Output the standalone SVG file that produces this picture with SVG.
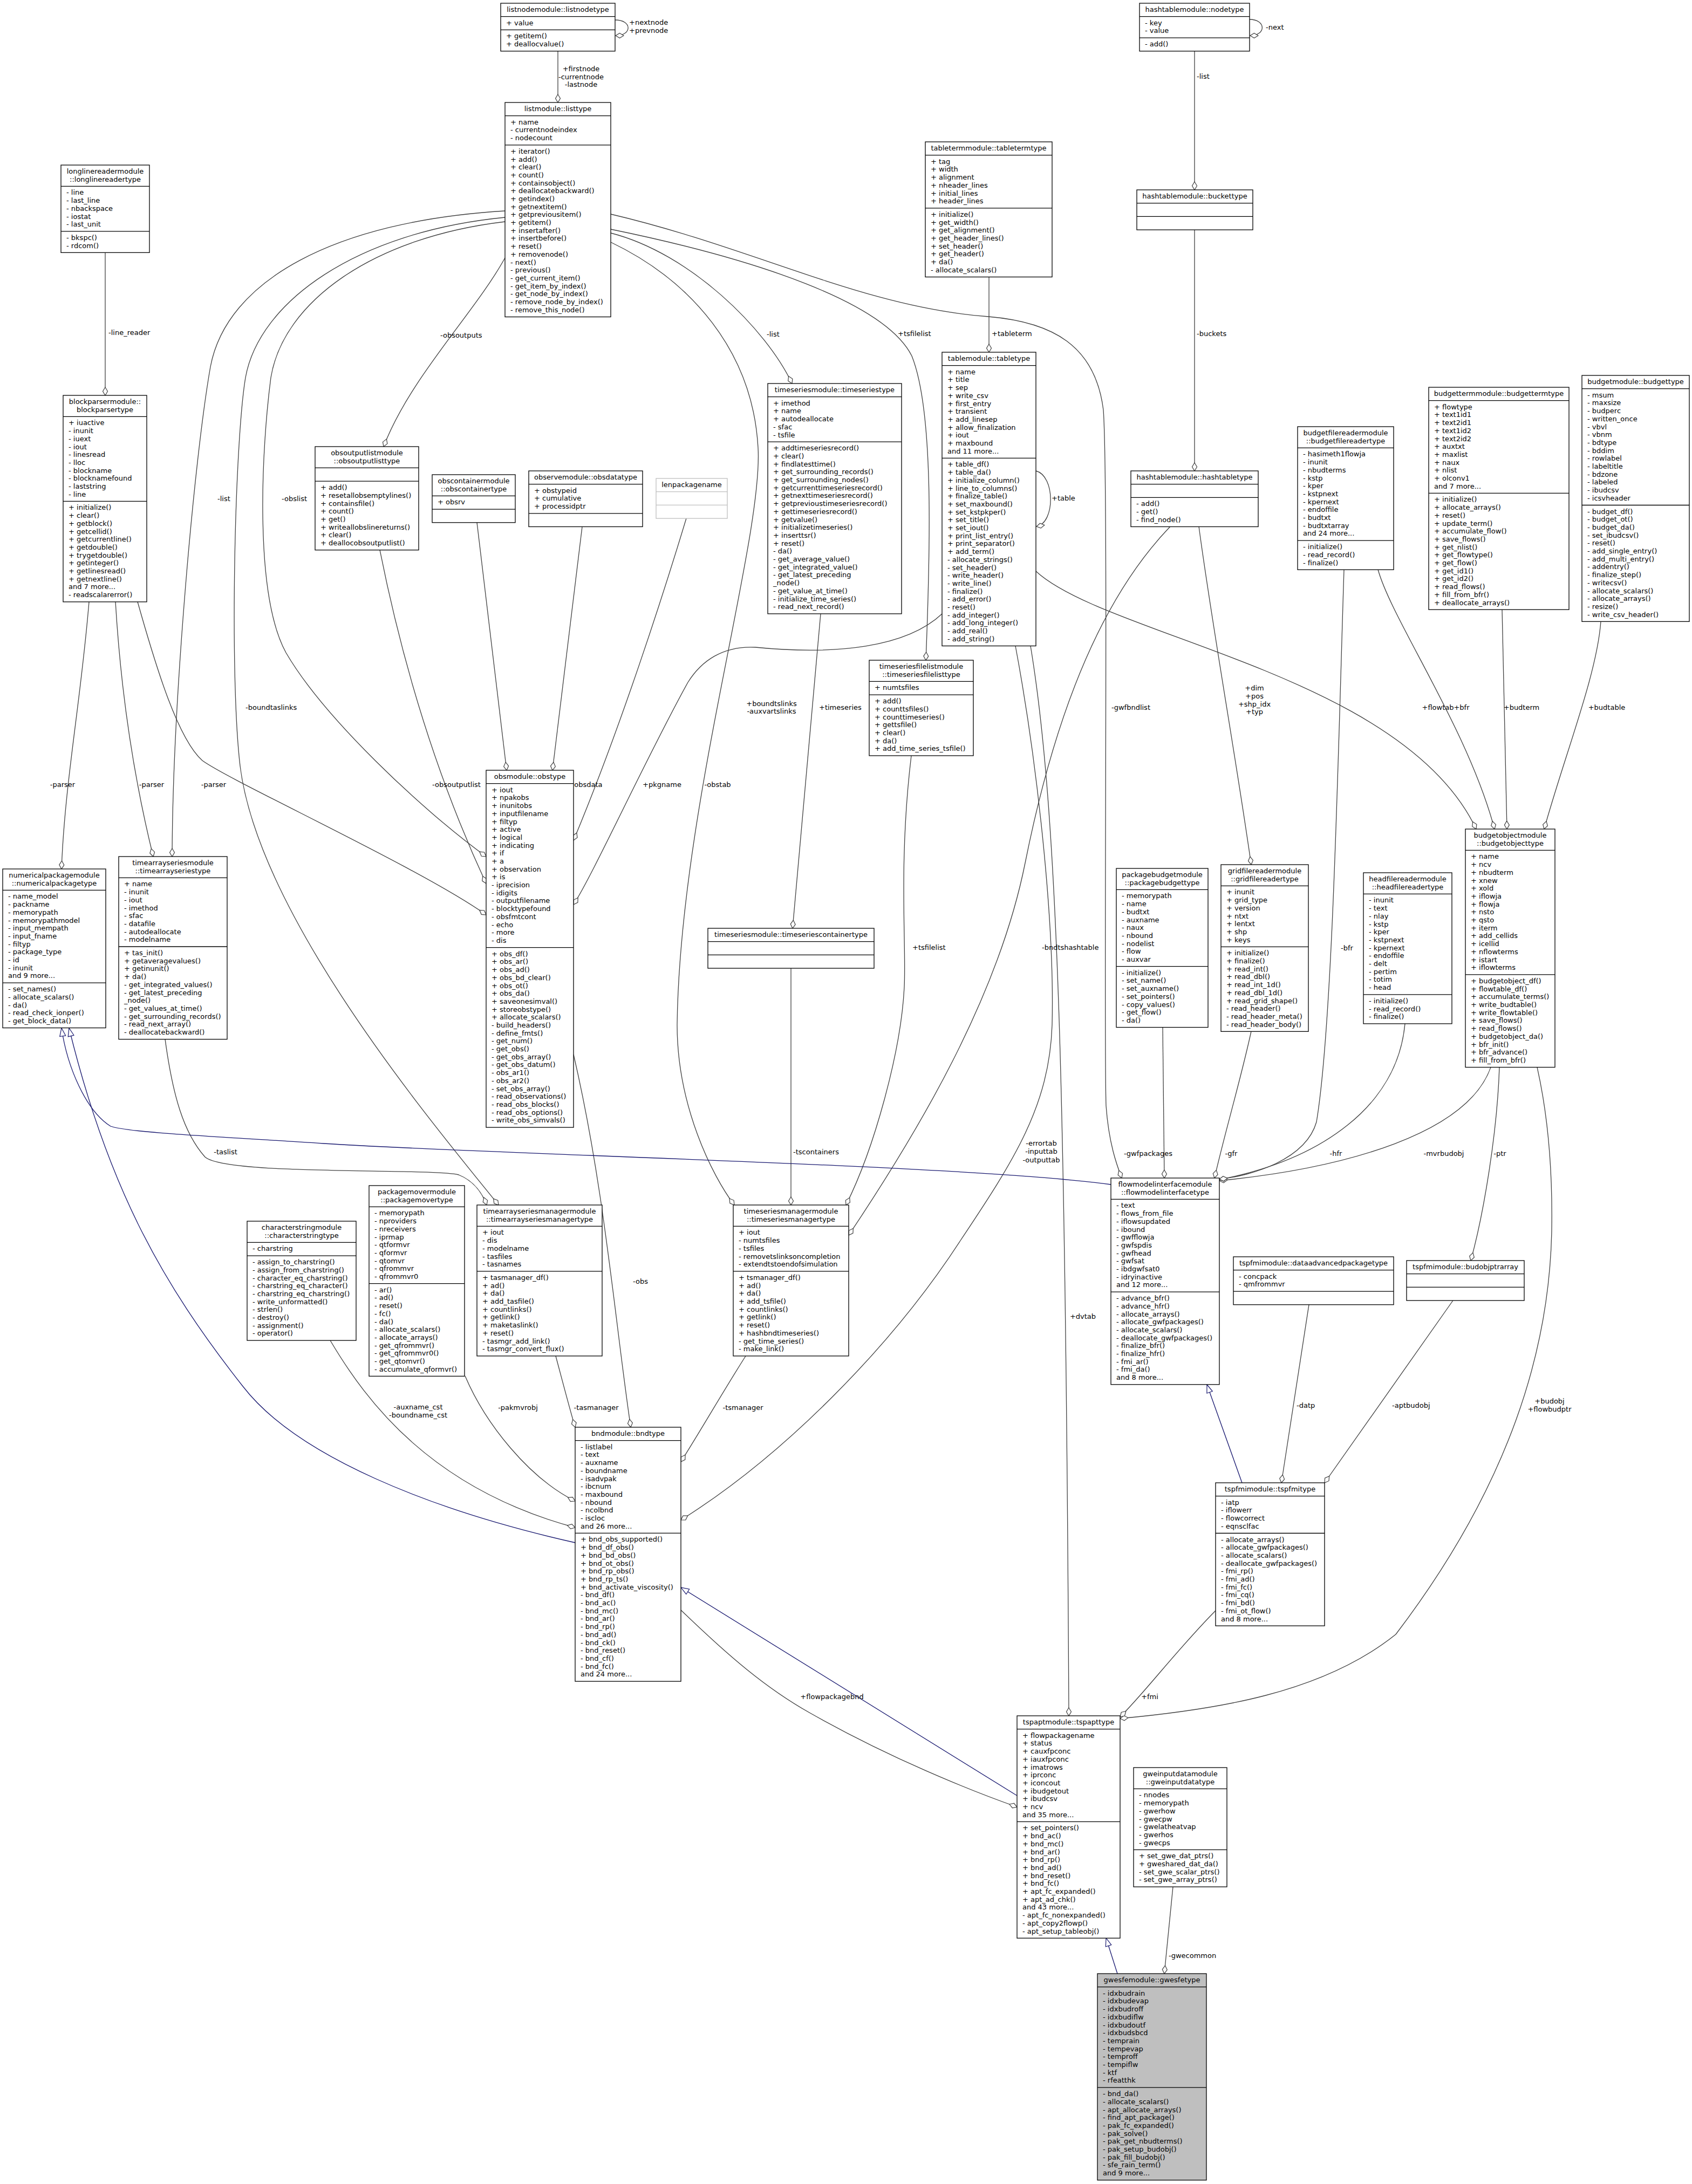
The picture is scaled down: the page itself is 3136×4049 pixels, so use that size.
<svg xmlns="http://www.w3.org/2000/svg" width="3136" height="4049" viewBox="0 0 3136 4049">
<style>
.b{fill:#fff;stroke:#000;stroke-width:1.3}
.g{fill:#bfbfbf;stroke:#000;stroke-width:1.3}
.u{fill:#fff;stroke:#bfbfbf;stroke-width:1.3}
.s{stroke:#000;stroke-width:1.3}
.su{stroke:#bfbfbf;stroke-width:1.3}
text{font-family:"DejaVu Sans","Liberation Sans",sans-serif;font-size:13px;fill:#000}
.c{text-anchor:middle}
.e{fill:none;stroke:#404040;stroke-width:1.3}
.i{fill:none;stroke:#191970;stroke-width:1.3}
</style>
<defs>
<marker id="dia" markerWidth="18" markerHeight="12" refX="16" refY="6" orient="auto" markerUnits="userSpaceOnUse"><path d="M1,6 L8.5,1.5 L16,6 L8.5,10.5 Z" fill="#fff" stroke="#404040" stroke-width="1.2"/></marker>
<marker id="tri" markerWidth="18" markerHeight="14" refX="16" refY="7" orient="auto" markerUnits="userSpaceOnUse"><path d="M1,1.5 L16,7 L1,12.5 Z" fill="#fff" stroke="#191970" stroke-width="1.2"/></marker>
</defs>
<rect x="0" y="0" width="3136" height="4049" fill="#fff"/>

<g id="connectors">
<path class="e" marker-end="url(#dia)" d="M1140,37 C1172,37 1172,66 1141,66"/>
<path class="e" marker-end="url(#dia)" d="M1034,94.8 L1034,190"/>
<path class="e" marker-end="url(#dia)" d="M2316,36 C2347,36 2347,66 2317,66"/>
<path class="e" marker-end="url(#dia)" d="M2214,94.8 L2214,352"/>
<path class="e" marker-end="url(#dia)" d="M2214,426 L2214,873"/>
<path class="e" marker-end="url(#dia)" d="M1833,513.5 L1833,653"/>
<path class="e" marker-end="url(#dia)" d="M1920,873 C1956,882 1956,970 1921,976"/>
<path class="e" marker-end="url(#dia)" d="M195,468.3 L195,733"/>
<path class="e" marker-end="url(#dia)" d="M936,478 C880,580 760,700 711,828"/>
<path class="e" marker-end="url(#dia)" d="M936,391 C620,410 420,520 390,680 C360,850 320,1300 319,1588"/>
<path class="e" marker-end="url(#dia)" d="M936,403 C660,430 480,560 455,700 C435,820 425,1250 445,1420 C480,1700 800,2080 924,2234"/>
<path class="e" marker-end="url(#dia)" d="M936,411 C690,440 525,560 502,700 C485,830 470,1100 530,1210 C600,1330 780,1500 901,1588"/>
<path class="e" marker-end="url(#dia)" d="M1132,432 C1280,470 1420,610 1468,711"/>
<path class="e" marker-end="url(#dia)" d="M1132,425 C1400,480 1640,560 1690,660 C1730,760 1725,1000 1716,1224"/>
<path class="e" marker-end="url(#dia)" d="M1132,397 C1400,460 1600,570 1832,587 C1950,597 2030,640 2045,760 C2055,900 2045,1900 2050,2050 C2055,2120 2070,2160 2079,2184"/>
<path class="e" marker-end="url(#dia)" d="M1132,449 C1280,520 1395,650 1405,830 C1415,1000 1260,1500 1255,1900 C1255,2050 1320,2180 1361,2234"/>
<path class="e" marker-end="url(#dia)" d="M1521,1138 L1469,1721"/>
<path class="e" marker-end="url(#dia)" d="M1466,1795 L1466,2234"/>
<path class="e" marker-end="url(#dia)" d="M1689,1401 C1665,1600 1680,1750 1676,1830 C1670,1950 1620,2130 1568,2234"/>
<path class="e" marker-end="url(#dia)" d="M2169,976 C2050,1100 1960,1300 1900,1600 C1850,1850 1700,2100 1573,2290"/>
<path class="e" marker-end="url(#dia)" d="M2222,976 C2245,1150 2290,1400 2319,1603"/>
<path class="e" marker-end="url(#dia)" d="M1746,1138 C1680,1200 1550,1215 1400,1200 C1340,1197 1300,1225 1275,1265 C1200,1400 1100,1620 1063,1677"/>
<path class="e" marker-end="url(#dia)" d="M1272,961 C1230,1100 1150,1350 1063,1558"/>
<path class="e" marker-end="url(#dia)" d="M1079,976.5 L1024,1428"/>
<path class="e" marker-end="url(#dia)" d="M884,968.8 L939,1428"/>
<path class="e" marker-end="url(#dia)" d="M704,1019.7 C740,1200 800,1420 901,1638"/>
<path class="e" marker-end="url(#dia)" d="M165,1115.8 C150,1300 120,1450 114,1611"/>
<path class="e" marker-end="url(#dia)" d="M214,1115.8 C225,1300 250,1450 284,1588"/>
<path class="e" marker-end="url(#dia)" d="M255,1115.8 C290,1240 330,1370 375,1410 C430,1450 780,1610 901,1696"/>
<path class="e" marker-end="url(#dia)" d="M306,1926.7 C320,2030 340,2100 380,2145 C420,2180 800,2165 850,2178 C880,2190 895,2215 902,2234"/>
<path class="e" marker-end="url(#dia)" d="M612,2485 C680,2600 800,2760 1066,2832"/>
<path class="e" marker-end="url(#dia)" d="M862,2551 C900,2640 980,2740 1066,2783"/>
<path class="e" marker-end="url(#dia)" d="M1030,2514 C1045,2570 1058,2620 1066,2646"/>
<path class="e" marker-end="url(#dia)" d="M1063,1955 C1120,2200 1140,2450 1169,2646"/>
<path class="e" marker-end="url(#dia)" d="M1382,2514 C1340,2580 1300,2650 1262,2710"/>
<path class="e" marker-end="url(#dia)" d="M1882,1197.5 C1920,1400 1955,1700 1950,1900 C1945,2050 1880,2150 1780,2300 C1650,2500 1450,2700 1262,2818"/>
<path class="e" marker-end="url(#dia)" d="M1910,1197.5 C1960,1500 1975,2000 1981,3181"/>
<path class="e" marker-end="url(#dia)" d="M1262,2985 C1350,3070 1420,3130 1500,3175 C1650,3260 1800,3320 1885,3350"/>
<path class="i" marker-end="url(#tri)" d="M1885,3329 L1262,2943"/>
<path class="e" marker-end="url(#dia)" d="M2849,1978.6 C2865,2050 2878,2150 2876,2280 C2872,2500 2800,2750 2587,3030 C2450,3140 2250,3170 2076,3186"/>
<path class="e" marker-end="url(#dia)" d="M2253,2986 C2180,3060 2120,3140 2076,3183"/>
<path class="i" marker-end="url(#tri)" d="M2302,2749 L2237,2567"/>
<path class="e" marker-end="url(#dia)" d="M2426,2418.8 L2375,2749"/>
<path class="e" marker-end="url(#dia)" d="M2693,2411 L2455,2749"/>
<path class="e" marker-end="url(#dia)" d="M2779,1978.6 C2775,2100 2750,2250 2726,2337"/>
<path class="e" marker-end="url(#dia)" d="M2174,3498 L2158,3659"/>
<path class="i" marker-end="url(#tri)" d="M2071,3659 L2050,3593"/>
<path class="e" marker-end="url(#dia)" d="M2763,1978.6 C2720,2100 2500,2165 2260,2189"/>
<path class="e" marker-end="url(#dia)" d="M2604,1897.9 C2590,2050 2450,2150 2260,2187"/>
<path class="e" marker-end="url(#dia)" d="M2491,1056 C2480,1400 2470,1900 2440,2080 C2420,2150 2320,2180 2260,2186"/>
<path class="e" marker-end="url(#dia)" d="M2319,1912 C2300,2000 2270,2100 2251,2184"/>
<path class="e" marker-end="url(#dia)" d="M2155,1904.6 L2158,2184"/>
<path class="i" marker-end="url(#tri)" d="M2059,2196 C1800,2160 900,2140 600,2120 C400,2107 240,2100 205,2088 C160,2060 125,1980 114,1906"/>
<path class="i" marker-end="url(#tri)" d="M1066,2860 C800,2800 550,2700 450,2570 C300,2380 200,2200 128,1906"/>
<path class="e" marker-end="url(#dia)" d="M2784,1130 L2793,1537"/>
<path class="e" marker-end="url(#dia)" d="M2967,1152 C2960,1250 2900,1400 2862,1537"/>
<path class="e" marker-end="url(#dia)" d="M2554,1056 C2580,1150 2720,1350 2770,1537"/>
<path class="e" marker-end="url(#dia)" d="M1920,1059 C2050,1180 2600,1250 2736,1537"/>

<text x="1166" y="46">+nextnode</text><text x="1166" y="61">+prevnode</text>
<text class="c" x="1077" y="132">+firstnode</text><text class="c" x="1077" y="147">-currentnode</text><text class="c" x="1077" y="161">-lastnode</text>
<text x="2346" y="55">-next</text>
<text x="2218" y="146">-list</text>
<text x="2218" y="623">-buckets</text>
<text x="1838" y="623">+tableterm</text>
<text x="1949" y="928">+table</text>
<text x="201" y="621">-line_reader</text>
<text x="816" y="626">-obsoutputs</text>
<text x="403" y="929">-list</text>
<text x="522" y="929">-obslist</text>
<text x="455" y="1316">-boundtaslinks</text>
<text class="c" x="116" y="1459">-parser</text>
<text class="c" x="281" y="1459">-parser</text>
<text class="c" x="396" y="1459">-parser</text>
<text class="c" x="846" y="1459">-obsoutputlist</text>
<text class="c" x="975" y="1459">+pakobs</text>
<text class="c" x="1085" y="1459">+obsdata</text>
<text class="c" x="1227" y="1459">+pkgname</text>
<text class="c" x="1330" y="1459">-obstab</text>
<text x="1518" y="1316">+timeseries</text>
<text class="c" x="1430" y="1309">+boundtslinks</text><text class="c" x="1430" y="1323">-auxvartslinks</text>
<text x="1421" y="624">-list</text>
<text x="1664" y="623">+tsfilelist</text>
<text x="2060" y="1316">-gwfbndlist</text>
<text x="1691" y="1761">+tsfilelist</text>
<text x="1931" y="1761">-bndtshashtable</text>
<text x="1470" y="2140">-tscontainers</text>
<text class="c" x="1930" y="2124">-errortab</text><text class="c" x="1930" y="2139">-inputtab</text><text class="c" x="1930" y="2155">-outputtab</text>
<text class="c" x="2007" y="2445">+dvtab</text>
<text x="1173" y="2380">-obs</text>
<text class="c" x="418" y="2140">-taslist</text>
<text class="c" x="775" y="2613">-auxname_cst</text><text class="c" x="775" y="2628">-boundname_cst</text>
<text class="c" x="960" y="2614">-pakmvrobj</text>
<text class="c" x="1105" y="2614">-tasmanager</text>
<text class="c" x="1377" y="2614">-tsmanager</text>
<text class="c" x="1542" y="3150">+flowpackagebnd</text>
<text class="c" x="2131" y="3150">+fmi</text>
<text class="c" x="2872" y="2602">+budobj</text><text class="c" x="2872" y="2617">+flowbudptr</text>
<text x="2403" y="2610">-datp</text>
<text x="2580" y="2610">-aptbudobj</text>
<text x="2166" y="3630">-gwecommon</text>
<text class="c" x="2128" y="2143">-gwfpackages</text>
<text class="c" x="2282" y="2143">-gfr</text>
<text class="c" x="2476" y="2143">-hfr</text>
<text class="c" x="2676" y="2143">-mvrbudobj</text>
<text class="c" x="2780" y="2143">-ptr</text>
<text x="2485" y="1762">-bfr</text>
<text class="c" x="2665" y="1316">+flowtab</text>
<text class="c" x="2709" y="1316">+bfr</text>
<text class="c" x="2820" y="1316">+budterm</text>
<text class="c" x="2978" y="1316">+budtable</text>
<text class="c" x="2325" y="1280">+dim</text><text class="c" x="2325" y="1295">+pos</text><text class="c" x="2325" y="1310">+shp_idx</text><text class="c" x="2325" y="1324">+typ</text>
</g>

<g id="listnodetype"><rect class="b" x="928" y="6" width="212" height="88.8"/><line class="s" x1="928" y1="30.7" x2="1140" y2="30.7"/><line class="s" x1="928" y1="55.4" x2="1140" y2="55.4"/>
<text class="c" x="1034" y="22">listnodemodule::listnodetype</text>
<text x="938" y="46.7">+ value</text>
<text x="938" y="71.4"><tspan x="938">+ getitem()</tspan><tspan x="938" dy="14.7">+ deallocvalue()</tspan></text></g>

<g id="listtype"><rect class="b" x="936" y="190" width="196" height="397.5"/><line class="s" x1="936" y1="214.7" x2="1132" y2="214.7"/><line class="s" x1="936" y1="268.8" x2="1132" y2="268.8"/>
<text class="c" x="1034" y="206">listmodule::listtype</text>
<text x="946" y="230.7"><tspan x="946">+ name</tspan><tspan x="946" dy="14.7">- currentnodeindex</tspan><tspan x="946" dy="14.7">- nodecount</tspan></text>
<text x="946" y="284.8"><tspan x="946">+ iterator()</tspan><tspan x="946" dy="14.7">+ add()</tspan><tspan x="946" dy="14.7">+ clear()</tspan><tspan x="946" dy="14.7">+ count()</tspan><tspan x="946" dy="14.7">+ containsobject()</tspan><tspan x="946" dy="14.7">+ deallocatebackward()</tspan><tspan x="946" dy="14.7">+ getindex()</tspan><tspan x="946" dy="14.7">+ getnextitem()</tspan><tspan x="946" dy="14.7">+ getpreviousitem()</tspan><tspan x="946" dy="14.7">+ getitem()</tspan><tspan x="946" dy="14.7">+ insertafter()</tspan><tspan x="946" dy="14.7">+ insertbefore()</tspan><tspan x="946" dy="14.7">+ reset()</tspan><tspan x="946" dy="14.7">+ removenode()</tspan><tspan x="946" dy="14.7">- next()</tspan><tspan x="946" dy="14.7">- previous()</tspan><tspan x="946" dy="14.7">- get_current_item()</tspan><tspan x="946" dy="14.7">- get_item_by_index()</tspan><tspan x="946" dy="14.7">- get_node_by_index()</tspan><tspan x="946" dy="14.7">- remove_node_by_index()</tspan><tspan x="946" dy="14.7">- remove_this_node()</tspan></text></g>

<g id="nodetype"><rect class="b" x="2112" y="6" width="204" height="88.8"/><line class="s" x1="2112" y1="30.7" x2="2316" y2="30.7"/><line class="s" x1="2112" y1="70.1" x2="2316" y2="70.1"/>
<text class="c" x="2214" y="22">hashtablemodule::nodetype</text>
<text x="2122" y="46.7"><tspan x="2122">- key</tspan><tspan x="2122" dy="14.7">- value</tspan></text>
<text x="2122" y="86.1">- add()</text></g>

<g id="longlinereadertype"><rect class="b" x="113" y="306" width="164" height="162.3"/><line class="s" x1="113" y1="345.4" x2="277" y2="345.4"/><line class="s" x1="113" y1="428.9" x2="277" y2="428.9"/>
<text class="c" x="195" y="322"><tspan x="195">longlinereadermodule</tspan><tspan x="195" dy="14.7">::longlinereadertype</tspan></text>
<text x="123" y="361.4"><tspan x="123">- line</tspan><tspan x="123" dy="14.7">- last_line</tspan><tspan x="123" dy="14.7">- nbackspace</tspan><tspan x="123" dy="14.7">- iostat</tspan><tspan x="123" dy="14.7">- last_unit</tspan></text>
<text x="123" y="444.9"><tspan x="123">- bkspc()</tspan><tspan x="123" dy="14.7">- rdcom()</tspan></text></g>

<g id="tabletermtype"><rect class="b" x="1715" y="263" width="235" height="250.5"/><line class="s" x1="1715" y1="287.7" x2="1950" y2="287.7"/><line class="s" x1="1715" y1="385.9" x2="1950" y2="385.9"/>
<text class="c" x="1832.5" y="279">tabletermmodule::tabletermtype</text>
<text x="1725" y="303.7"><tspan x="1725">+ tag</tspan><tspan x="1725" dy="14.7">+ width</tspan><tspan x="1725" dy="14.7">+ alignment</tspan><tspan x="1725" dy="14.7">+ nheader_lines</tspan><tspan x="1725" dy="14.7">+ initial_lines</tspan><tspan x="1725" dy="14.7">+ header_lines</tspan></text>
<text x="1725" y="401.9"><tspan x="1725">+ initialize()</tspan><tspan x="1725" dy="14.7">+ get_width()</tspan><tspan x="1725" dy="14.7">+ get_alignment()</tspan><tspan x="1725" dy="14.7">+ get_header_lines()</tspan><tspan x="1725" dy="14.7">+ set_header()</tspan><tspan x="1725" dy="14.7">+ get_header()</tspan><tspan x="1725" dy="14.7">+ da()</tspan><tspan x="1725" dy="14.7">- allocate_scalars()</tspan></text></g>

<g id="buckettype"><rect class="b" x="2107" y="352" width="215" height="74.1"/><line class="s" x1="2107" y1="376.7" x2="2322" y2="376.7"/><line class="s" x1="2107" y1="401.4" x2="2322" y2="401.4"/>
<text class="c" x="2214.5" y="368">hashtablemodule::buckettype</text></g>

<g id="tabletype"><rect class="b" x="1746" y="653" width="174" height="544.5"/><line class="s" x1="1746" y1="677.7" x2="1920" y2="677.7"/><line class="s" x1="1746" y1="849.4" x2="1920" y2="849.4"/>
<text class="c" x="1833" y="669">tablemodule::tabletype</text>
<text x="1756" y="693.7"><tspan x="1756">+ name</tspan><tspan x="1756" dy="14.7">+ title</tspan><tspan x="1756" dy="14.7">+ sep</tspan><tspan x="1756" dy="14.7">+ write_csv</tspan><tspan x="1756" dy="14.7">+ first_entry</tspan><tspan x="1756" dy="14.7">+ transient</tspan><tspan x="1756" dy="14.7">+ add_linesep</tspan><tspan x="1756" dy="14.7">+ allow_finalization</tspan><tspan x="1756" dy="14.7">+ iout</tspan><tspan x="1756" dy="14.7">+ maxbound</tspan><tspan x="1756" dy="14.7">and 11 more...</tspan></text>
<text x="1756" y="865.4"><tspan x="1756">+ table_df()</tspan><tspan x="1756" dy="14.7">+ table_da()</tspan><tspan x="1756" dy="14.7">+ initialize_column()</tspan><tspan x="1756" dy="14.7">+ line_to_columns()</tspan><tspan x="1756" dy="14.7">+ finalize_table()</tspan><tspan x="1756" dy="14.7">+ set_maxbound()</tspan><tspan x="1756" dy="14.7">+ set_kstpkper()</tspan><tspan x="1756" dy="14.7">+ set_title()</tspan><tspan x="1756" dy="14.7">+ set_iout()</tspan><tspan x="1756" dy="14.7">+ print_list_entry()</tspan><tspan x="1756" dy="14.7">+ print_separator()</tspan><tspan x="1756" dy="14.7">+ add_term()</tspan><tspan x="1756" dy="14.7">- allocate_strings()</tspan><tspan x="1756" dy="14.7">- set_header()</tspan><tspan x="1756" dy="14.7">- write_header()</tspan><tspan x="1756" dy="14.7">- write_line()</tspan><tspan x="1756" dy="14.7">- finalize()</tspan><tspan x="1756" dy="14.7">- add_error()</tspan><tspan x="1756" dy="14.7">- reset()</tspan><tspan x="1756" dy="14.7">- add_integer()</tspan><tspan x="1756" dy="14.7">- add_long_integer()</tspan><tspan x="1756" dy="14.7">- add_real()</tspan><tspan x="1756" dy="14.7">- add_string()</tspan></text></g>

<g id="hashtabletype"><rect class="b" x="2096" y="873" width="236" height="103.5"/><line class="s" x1="2096" y1="897.7" x2="2332" y2="897.7"/><line class="s" x1="2096" y1="922.4" x2="2332" y2="922.4"/>
<text class="c" x="2214" y="889">hashtablemodule::hashtabletype</text>
<text x="2106" y="938.4"><tspan x="2106">- add()</tspan><tspan x="2106" dy="14.7">- get()</tspan><tspan x="2106" dy="14.7">- find_node()</tspan></text></g>

<g id="budgetfilereadertype"><rect class="b" x="2405" y="791" width="178" height="265.2"/><line class="s" x1="2405" y1="830.4" x2="2583" y2="830.4"/><line class="s" x1="2405" y1="1002.1" x2="2583" y2="1002.1"/>
<text class="c" x="2494" y="807"><tspan x="2494">budgetfilereadermodule</tspan><tspan x="2494" dy="14.7">::budgetfilereadertype</tspan></text>
<text x="2415" y="846.4"><tspan x="2415">- hasimeth1flowja</tspan><tspan x="2415" dy="14.7">- inunit</tspan><tspan x="2415" dy="14.7">- nbudterms</tspan><tspan x="2415" dy="14.7">- kstp</tspan><tspan x="2415" dy="14.7">- kper</tspan><tspan x="2415" dy="14.7">- kstpnext</tspan><tspan x="2415" dy="14.7">- kpernext</tspan><tspan x="2415" dy="14.7">- endoffile</tspan><tspan x="2415" dy="14.7">- budtxt</tspan><tspan x="2415" dy="14.7">- budtxtarray</tspan><tspan x="2415" dy="14.7">and 24 more...</tspan></text>
<text x="2415" y="1018.1"><tspan x="2415">- initialize()</tspan><tspan x="2415" dy="14.7">- read_record()</tspan><tspan x="2415" dy="14.7">- finalize()</tspan></text></g>

<g id="budgettermtype"><rect class="b" x="2648" y="718" width="260" height="412.2"/><line class="s" x1="2648" y1="742.7" x2="2908" y2="742.7"/><line class="s" x1="2648" y1="914.4" x2="2908" y2="914.4"/>
<text class="c" x="2778" y="734">budgettermmodule::budgettermtype</text>
<text x="2658" y="758.7"><tspan x="2658">+ flowtype</tspan><tspan x="2658" dy="14.7">+ text1id1</tspan><tspan x="2658" dy="14.7">+ text2id1</tspan><tspan x="2658" dy="14.7">+ text1id2</tspan><tspan x="2658" dy="14.7">+ text2id2</tspan><tspan x="2658" dy="14.7">+ auxtxt</tspan><tspan x="2658" dy="14.7">+ maxlist</tspan><tspan x="2658" dy="14.7">+ naux</tspan><tspan x="2658" dy="14.7">+ nlist</tspan><tspan x="2658" dy="14.7">+ olconv1</tspan><tspan x="2658" dy="14.7">and 7 more...</tspan></text>
<text x="2658" y="930.4"><tspan x="2658">+ initialize()</tspan><tspan x="2658" dy="14.7">+ allocate_arrays()</tspan><tspan x="2658" dy="14.7">+ reset()</tspan><tspan x="2658" dy="14.7">+ update_term()</tspan><tspan x="2658" dy="14.7">+ accumulate_flow()</tspan><tspan x="2658" dy="14.7">+ save_flows()</tspan><tspan x="2658" dy="14.7">+ get_nlist()</tspan><tspan x="2658" dy="14.7">+ get_flowtype()</tspan><tspan x="2658" dy="14.7">+ get_flow()</tspan><tspan x="2658" dy="14.7">+ get_id1()</tspan><tspan x="2658" dy="14.7">+ get_id2()</tspan><tspan x="2658" dy="14.7">+ read_flows()</tspan><tspan x="2658" dy="14.7">+ fill_from_bfr()</tspan><tspan x="2658" dy="14.7">+ deallocate_arrays()</tspan></text></g>

<g id="budgettype"><rect class="b" x="2932" y="696" width="199" height="456.3"/><line class="s" x1="2932" y1="720.7" x2="3131" y2="720.7"/><line class="s" x1="2932" y1="936.5" x2="3131" y2="936.5"/>
<text class="c" x="3031.5" y="712">budgetmodule::budgettype</text>
<text x="2942" y="736.7"><tspan x="2942">- msum</tspan><tspan x="2942" dy="14.7">- maxsize</tspan><tspan x="2942" dy="14.7">- budperc</tspan><tspan x="2942" dy="14.7">- written_once</tspan><tspan x="2942" dy="14.7">- vbvl</tspan><tspan x="2942" dy="14.7">- vbnm</tspan><tspan x="2942" dy="14.7">- bdtype</tspan><tspan x="2942" dy="14.7">- bddim</tspan><tspan x="2942" dy="14.7">- rowlabel</tspan><tspan x="2942" dy="14.7">- labeltitle</tspan><tspan x="2942" dy="14.7">- bdzone</tspan><tspan x="2942" dy="14.7">- labeled</tspan><tspan x="2942" dy="14.7">- ibudcsv</tspan><tspan x="2942" dy="14.7">- icsvheader</tspan></text>
<text x="2942" y="952.5"><tspan x="2942">- budget_df()</tspan><tspan x="2942" dy="14.7">- budget_ot()</tspan><tspan x="2942" dy="14.7">- budget_da()</tspan><tspan x="2942" dy="14.7">- set_ibudcsv()</tspan><tspan x="2942" dy="14.7">- reset()</tspan><tspan x="2942" dy="14.7">- add_single_entry()</tspan><tspan x="2942" dy="14.7">- add_multi_entry()</tspan><tspan x="2942" dy="14.7">- addentry()</tspan><tspan x="2942" dy="14.7">- finalize_step()</tspan><tspan x="2942" dy="14.7">- writecsv()</tspan><tspan x="2942" dy="14.7">- allocate_scalars()</tspan><tspan x="2942" dy="14.7">- allocate_arrays()</tspan><tspan x="2942" dy="14.7">- resize()</tspan><tspan x="2942" dy="14.7">- write_csv_header()</tspan></text></g>

<g id="blockparsertype"><rect class="b" x="117" y="733" width="155" height="382.8"/><line class="s" x1="117" y1="772.4" x2="272" y2="772.4"/><line class="s" x1="117" y1="929.4" x2="272" y2="929.4"/>
<text class="c" x="194.5" y="749"><tspan x="194.5">blockparsermodule::</tspan><tspan x="194.5" dy="14.7">blockparsertype</tspan></text>
<text x="127" y="788.4"><tspan x="127">+ iuactive</tspan><tspan x="127" dy="14.7">- inunit</tspan><tspan x="127" dy="14.7">- iuext</tspan><tspan x="127" dy="14.7">- iout</tspan><tspan x="127" dy="14.7">- linesread</tspan><tspan x="127" dy="14.7">- lloc</tspan><tspan x="127" dy="14.7">- blockname</tspan><tspan x="127" dy="14.7">- blocknamefound</tspan><tspan x="127" dy="14.7">- laststring</tspan><tspan x="127" dy="14.7">- line</tspan></text>
<text x="127" y="945.4"><tspan x="127">+ initialize()</tspan><tspan x="127" dy="14.7">+ clear()</tspan><tspan x="127" dy="14.7">+ getblock()</tspan><tspan x="127" dy="14.7">+ getcellid()</tspan><tspan x="127" dy="14.7">+ getcurrentline()</tspan><tspan x="127" dy="14.7">+ getdouble()</tspan><tspan x="127" dy="14.7">+ trygetdouble()</tspan><tspan x="127" dy="14.7">+ getinteger()</tspan><tspan x="127" dy="14.7">+ getlinesread()</tspan><tspan x="127" dy="14.7">+ getnextline()</tspan><tspan x="127" dy="14.7">and 7 more...</tspan><tspan x="127" dy="14.7">- readscalarerror()</tspan></text></g>

<g id="obsoutputlisttype"><rect class="b" x="584" y="828" width="192" height="191.7"/><line class="s" x1="584" y1="867.4" x2="776" y2="867.4"/><line class="s" x1="584" y1="892.1" x2="776" y2="892.1"/>
<text class="c" x="680" y="844"><tspan x="680">obsoutputlistmodule</tspan><tspan x="680" dy="14.7">::obsoutputlisttype</tspan></text>
<text x="594" y="908.1"><tspan x="594">+ add()</tspan><tspan x="594" dy="14.7">+ resetallobsemptylines()</tspan><tspan x="594" dy="14.7">+ containsfile()</tspan><tspan x="594" dy="14.7">+ count()</tspan><tspan x="594" dy="14.7">+ get()</tspan><tspan x="594" dy="14.7">+ writeallobslinereturns()</tspan><tspan x="594" dy="14.7">+ clear()</tspan><tspan x="594" dy="14.7">+ deallocobsoutputlist()</tspan></text></g>

<g id="obscontainertype"><rect class="b" x="801" y="880" width="154" height="88.8"/><line class="s" x1="801" y1="919.4" x2="955" y2="919.4"/><line class="s" x1="801" y1="944.1" x2="955" y2="944.1"/>
<text class="c" x="878" y="896"><tspan x="878">obscontainermodule</tspan><tspan x="878" dy="14.7">::obscontainertype</tspan></text>
<text x="811" y="935.4">+ obsrv</text></g>

<g id="obsdatatype"><rect class="b" x="980" y="873" width="211" height="103.5"/><line class="s" x1="980" y1="897.7" x2="1191" y2="897.7"/><line class="s" x1="980" y1="951.8" x2="1191" y2="951.8"/>
<text class="c" x="1085.5" y="889">observemodule::obsdatatype</text>
<text x="990" y="913.7"><tspan x="990">+ obstypeid</tspan><tspan x="990" dy="14.7">+ cumulative</tspan><tspan x="990" dy="14.7">+ processidptr</tspan></text></g>

<g id="lenpackagename"><rect class="u" x="1216" y="887" width="132" height="74.1"/><line class="su" x1="1216" y1="911.7" x2="1348" y2="911.7"/><line class="su" x1="1216" y1="936.4" x2="1348" y2="936.4"/>
<text class="c" x="1282" y="903">lenpackagename</text></g>

<g id="timeseriestype"><rect class="b" x="1423" y="711" width="248" height="426.9"/><line class="s" x1="1423" y1="735.7" x2="1671" y2="735.7"/><line class="s" x1="1423" y1="819.2" x2="1671" y2="819.2"/>
<text class="c" x="1547" y="727">timeseriesmodule::timeseriestype</text>
<text x="1433" y="751.7"><tspan x="1433">+ imethod</tspan><tspan x="1433" dy="14.7">+ name</tspan><tspan x="1433" dy="14.7">+ autodeallocate</tspan><tspan x="1433" dy="14.7">- sfac</tspan><tspan x="1433" dy="14.7">- tsfile</tspan></text>
<text x="1433" y="835.2"><tspan x="1433">+ addtimeseriesrecord()</tspan><tspan x="1433" dy="14.7">+ clear()</tspan><tspan x="1433" dy="14.7">+ findlatesttime()</tspan><tspan x="1433" dy="14.7">+ get_surrounding_records()</tspan><tspan x="1433" dy="14.7">+ get_surrounding_nodes()</tspan><tspan x="1433" dy="14.7">+ getcurrenttimeseriesrecord()</tspan><tspan x="1433" dy="14.7">+ getnexttimeseriesrecord()</tspan><tspan x="1433" dy="14.7">+ getprevioustimeseriesrecord()</tspan><tspan x="1433" dy="14.7">+ gettimeseriesrecord()</tspan><tspan x="1433" dy="14.7">+ getvalue()</tspan><tspan x="1433" dy="14.7">+ initializetimeseries()</tspan><tspan x="1433" dy="14.7">+ inserttsr()</tspan><tspan x="1433" dy="14.7">+ reset()</tspan><tspan x="1433" dy="14.7">- da()</tspan><tspan x="1433" dy="14.7">- get_average_value()</tspan><tspan x="1433" dy="14.7">- get_integrated_value()</tspan><tspan x="1433" dy="14.7">- get_latest_preceding</tspan><tspan x="1433" dy="14.7">_node()</tspan><tspan x="1433" dy="14.7">- get_value_at_time()</tspan><tspan x="1433" dy="14.7">- initialize_time_series()</tspan><tspan x="1433" dy="14.7">- read_next_record()</tspan></text></g>

<g id="timeseriesfilelisttype"><rect class="b" x="1611" y="1224" width="193" height="177"/><line class="s" x1="1611" y1="1263.4" x2="1804" y2="1263.4"/><line class="s" x1="1611" y1="1288.1" x2="1804" y2="1288.1"/>
<text class="c" x="1707.5" y="1240"><tspan x="1707.5">timeseriesfilelistmodule</tspan><tspan x="1707.5" dy="14.7">::timeseriesfilelisttype</tspan></text>
<text x="1621" y="1279.4">+ numtsfiles</text>
<text x="1621" y="1304.1"><tspan x="1621">+ add()</tspan><tspan x="1621" dy="14.7">+ counttsfiles()</tspan><tspan x="1621" dy="14.7">+ counttimeseries()</tspan><tspan x="1621" dy="14.7">+ gettsfile()</tspan><tspan x="1621" dy="14.7">+ clear()</tspan><tspan x="1621" dy="14.7">+ da()</tspan><tspan x="1621" dy="14.7">+ add_time_series_tsfile()</tspan></text></g>

<g id="obstype"><rect class="b" x="901" y="1428" width="162" height="662.1"/><line class="s" x1="901" y1="1452.7" x2="1063" y2="1452.7"/><line class="s" x1="901" y1="1756.7" x2="1063" y2="1756.7"/>
<text class="c" x="982" y="1444">obsmodule::obstype</text>
<text x="911" y="1468.7"><tspan x="911">+ iout</tspan><tspan x="911" dy="14.7">+ npakobs</tspan><tspan x="911" dy="14.7">+ inunitobs</tspan><tspan x="911" dy="14.7">+ inputfilename</tspan><tspan x="911" dy="14.7">+ filtyp</tspan><tspan x="911" dy="14.7">+ active</tspan><tspan x="911" dy="14.7">+ logical</tspan><tspan x="911" dy="14.7">+ indicating</tspan><tspan x="911" dy="14.7">+ if</tspan><tspan x="911" dy="14.7">+ a</tspan><tspan x="911" dy="14.7">+ observation</tspan><tspan x="911" dy="14.7">+ is</tspan><tspan x="911" dy="14.7">- iprecision</tspan><tspan x="911" dy="14.7">- idigits</tspan><tspan x="911" dy="14.7">- outputfilename</tspan><tspan x="911" dy="14.7">- blocktypefound</tspan><tspan x="911" dy="14.7">- obsfmtcont</tspan><tspan x="911" dy="14.7">- echo</tspan><tspan x="911" dy="14.7">- more</tspan><tspan x="911" dy="14.7">- dis</tspan></text>
<text x="911" y="1772.7"><tspan x="911">+ obs_df()</tspan><tspan x="911" dy="14.7">+ obs_ar()</tspan><tspan x="911" dy="14.7">+ obs_ad()</tspan><tspan x="911" dy="14.7">+ obs_bd_clear()</tspan><tspan x="911" dy="14.7">+ obs_ot()</tspan><tspan x="911" dy="14.7">+ obs_da()</tspan><tspan x="911" dy="14.7">+ saveonesimval()</tspan><tspan x="911" dy="14.7">+ storeobstype()</tspan><tspan x="911" dy="14.7">+ allocate_scalars()</tspan><tspan x="911" dy="14.7">- build_headers()</tspan><tspan x="911" dy="14.7">- define_fmts()</tspan><tspan x="911" dy="14.7">- get_num()</tspan><tspan x="911" dy="14.7">- get_obs()</tspan><tspan x="911" dy="14.7">- get_obs_array()</tspan><tspan x="911" dy="14.7">- get_obs_datum()</tspan><tspan x="911" dy="14.7">- obs_ar1()</tspan><tspan x="911" dy="14.7">- obs_ar2()</tspan><tspan x="911" dy="14.7">- set_obs_array()</tspan><tspan x="911" dy="14.7">- read_observations()</tspan><tspan x="911" dy="14.7">- read_obs_blocks()</tspan><tspan x="911" dy="14.7">- read_obs_options()</tspan><tspan x="911" dy="14.7">- write_obs_simvals()</tspan></text></g>

<g id="numericalpackagetype"><rect class="b" x="5" y="1611" width="191" height="294.6"/><line class="s" x1="5" y1="1650.4" x2="196" y2="1650.4"/><line class="s" x1="5" y1="1822.1" x2="196" y2="1822.1"/>
<text class="c" x="100.5" y="1627"><tspan x="100.5">numericalpackagemodule</tspan><tspan x="100.5" dy="14.7">::numericalpackagetype</tspan></text>
<text x="15" y="1666.4"><tspan x="15">- name_model</tspan><tspan x="15" dy="14.7">- packname</tspan><tspan x="15" dy="14.7">- memorypath</tspan><tspan x="15" dy="14.7">- memorypathmodel</tspan><tspan x="15" dy="14.7">- input_mempath</tspan><tspan x="15" dy="14.7">- input_fname</tspan><tspan x="15" dy="14.7">- filtyp</tspan><tspan x="15" dy="14.7">- package_type</tspan><tspan x="15" dy="14.7">- id</tspan><tspan x="15" dy="14.7">- inunit</tspan><tspan x="15" dy="14.7">and 9 more...</tspan></text>
<text x="15" y="1838.1"><tspan x="15">- set_names()</tspan><tspan x="15" dy="14.7">- allocate_scalars()</tspan><tspan x="15" dy="14.7">- da()</tspan><tspan x="15" dy="14.7">- read_check_ionper()</tspan><tspan x="15" dy="14.7">- get_block_data()</tspan></text></g>

<g id="timearrayseriestype"><rect class="b" x="220" y="1588" width="201" height="338.7"/><line class="s" x1="220" y1="1627.4" x2="421" y2="1627.4"/><line class="s" x1="220" y1="1755" x2="421" y2="1755"/>
<text class="c" x="320.5" y="1604"><tspan x="320.5">timearrayseriesmodule</tspan><tspan x="320.5" dy="14.7">::timearrayseriestype</tspan></text>
<text x="230" y="1643.4"><tspan x="230">+ name</tspan><tspan x="230" dy="14.7">- inunit</tspan><tspan x="230" dy="14.7">- iout</tspan><tspan x="230" dy="14.7">- imethod</tspan><tspan x="230" dy="14.7">- sfac</tspan><tspan x="230" dy="14.7">- datafile</tspan><tspan x="230" dy="14.7">- autodeallocate</tspan><tspan x="230" dy="14.7">- modelname</tspan></text>
<text x="230" y="1771"><tspan x="230">+ tas_init()</tspan><tspan x="230" dy="14.7">+ getaveragevalues()</tspan><tspan x="230" dy="14.7">+ getinunit()</tspan><tspan x="230" dy="14.7">+ da()</tspan><tspan x="230" dy="14.7">- get_integrated_values()</tspan><tspan x="230" dy="14.7">- get_latest_preceding</tspan><tspan x="230" dy="14.7">_node()</tspan><tspan x="230" dy="14.7">- get_values_at_time()</tspan><tspan x="230" dy="14.7">- get_surrounding_records()</tspan><tspan x="230" dy="14.7">- read_next_array()</tspan><tspan x="230" dy="14.7">- deallocatebackward()</tspan></text></g>

<g id="timeseriescontainertype"><rect class="b" x="1312" y="1721" width="308" height="74.1"/><line class="s" x1="1312" y1="1745.7" x2="1620" y2="1745.7"/><line class="s" x1="1312" y1="1770.4" x2="1620" y2="1770.4"/>
<text class="c" x="1466" y="1737">timeseriesmodule::timeseriescontainertype</text></g>

<g id="packagebudgettype"><rect class="b" x="2069" y="1610" width="170" height="294.6"/><line class="s" x1="2069" y1="1649.4" x2="2239" y2="1649.4"/><line class="s" x1="2069" y1="1791.7" x2="2239" y2="1791.7"/>
<text class="c" x="2154" y="1626"><tspan x="2154">packagebudgetmodule</tspan><tspan x="2154" dy="14.7">::packagebudgettype</tspan></text>
<text x="2079" y="1665.4"><tspan x="2079">- memorypath</tspan><tspan x="2079" dy="14.7">- name</tspan><tspan x="2079" dy="14.7">- budtxt</tspan><tspan x="2079" dy="14.7">- auxname</tspan><tspan x="2079" dy="14.7">- naux</tspan><tspan x="2079" dy="14.7">- nbound</tspan><tspan x="2079" dy="14.7">- nodelist</tspan><tspan x="2079" dy="14.7">- flow</tspan><tspan x="2079" dy="14.7">- auxvar</tspan></text>
<text x="2079" y="1807.7"><tspan x="2079">- initialize()</tspan><tspan x="2079" dy="14.7">- set_name()</tspan><tspan x="2079" dy="14.7">- set_auxname()</tspan><tspan x="2079" dy="14.7">- set_pointers()</tspan><tspan x="2079" dy="14.7">- copy_values()</tspan><tspan x="2079" dy="14.7">- get_flow()</tspan><tspan x="2079" dy="14.7">- da()</tspan></text></g>

<g id="gridfilereadertype"><rect class="b" x="2263" y="1603" width="162" height="309.3"/><line class="s" x1="2263" y1="1642.4" x2="2425" y2="1642.4"/><line class="s" x1="2263" y1="1755.3" x2="2425" y2="1755.3"/>
<text class="c" x="2344" y="1619"><tspan x="2344">gridfilereadermodule</tspan><tspan x="2344" dy="14.7">::gridfilereadertype</tspan></text>
<text x="2273" y="1658.4"><tspan x="2273">+ inunit</tspan><tspan x="2273" dy="14.7">+ grid_type</tspan><tspan x="2273" dy="14.7">+ version</tspan><tspan x="2273" dy="14.7">+ ntxt</tspan><tspan x="2273" dy="14.7">+ lentxt</tspan><tspan x="2273" dy="14.7">+ shp</tspan><tspan x="2273" dy="14.7">+ keys</tspan></text>
<text x="2273" y="1771.3"><tspan x="2273">+ initialize()</tspan><tspan x="2273" dy="14.7">+ finalize()</tspan><tspan x="2273" dy="14.7">+ read_int()</tspan><tspan x="2273" dy="14.7">+ read_dbl()</tspan><tspan x="2273" dy="14.7">+ read_int_1d()</tspan><tspan x="2273" dy="14.7">+ read_dbl_1d()</tspan><tspan x="2273" dy="14.7">+ read_grid_shape()</tspan><tspan x="2273" dy="14.7">- read_header()</tspan><tspan x="2273" dy="14.7">- read_header_meta()</tspan><tspan x="2273" dy="14.7">- read_header_body()</tspan></text></g>

<g id="headfilereadertype"><rect class="b" x="2527" y="1618" width="164" height="279.9"/><line class="s" x1="2527" y1="1657.4" x2="2691" y2="1657.4"/><line class="s" x1="2527" y1="1843.8" x2="2691" y2="1843.8"/>
<text class="c" x="2609" y="1634"><tspan x="2609">headfilereadermodule</tspan><tspan x="2609" dy="14.7">::headfilereadertype</tspan></text>
<text x="2537" y="1673.4"><tspan x="2537">- inunit</tspan><tspan x="2537" dy="14.7">- text</tspan><tspan x="2537" dy="14.7">- nlay</tspan><tspan x="2537" dy="14.7">- kstp</tspan><tspan x="2537" dy="14.7">- kper</tspan><tspan x="2537" dy="14.7">- kstpnext</tspan><tspan x="2537" dy="14.7">- kpernext</tspan><tspan x="2537" dy="14.7">- endoffile</tspan><tspan x="2537" dy="14.7">- delt</tspan><tspan x="2537" dy="14.7">- pertim</tspan><tspan x="2537" dy="14.7">- totim</tspan><tspan x="2537" dy="14.7">- head</tspan></text>
<text x="2537" y="1859.8"><tspan x="2537">- initialize()</tspan><tspan x="2537" dy="14.7">- read_record()</tspan><tspan x="2537" dy="14.7">- finalize()</tspan></text></g>

<g id="budgetobjecttype"><rect class="b" x="2716" y="1537" width="166" height="441.6"/><line class="s" x1="2716" y1="1576.4" x2="2882" y2="1576.4"/><line class="s" x1="2716" y1="1806.9" x2="2882" y2="1806.9"/>
<text class="c" x="2799" y="1553"><tspan x="2799">budgetobjectmodule</tspan><tspan x="2799" dy="14.7">::budgetobjecttype</tspan></text>
<text x="2726" y="1592.4"><tspan x="2726">+ name</tspan><tspan x="2726" dy="14.7">+ ncv</tspan><tspan x="2726" dy="14.7">+ nbudterm</tspan><tspan x="2726" dy="14.7">+ xnew</tspan><tspan x="2726" dy="14.7">+ xold</tspan><tspan x="2726" dy="14.7">+ iflowja</tspan><tspan x="2726" dy="14.7">+ flowja</tspan><tspan x="2726" dy="14.7">+ nsto</tspan><tspan x="2726" dy="14.7">+ qsto</tspan><tspan x="2726" dy="14.7">+ iterm</tspan><tspan x="2726" dy="14.7">+ add_cellids</tspan><tspan x="2726" dy="14.7">+ icellid</tspan><tspan x="2726" dy="14.7">+ nflowterms</tspan><tspan x="2726" dy="14.7">+ istart</tspan><tspan x="2726" dy="14.7">+ iflowterms</tspan></text>
<text x="2726" y="1822.9"><tspan x="2726">+ budgetobject_df()</tspan><tspan x="2726" dy="14.7">+ flowtable_df()</tspan><tspan x="2726" dy="14.7">+ accumulate_terms()</tspan><tspan x="2726" dy="14.7">+ write_budtable()</tspan><tspan x="2726" dy="14.7">+ write_flowtable()</tspan><tspan x="2726" dy="14.7">+ save_flows()</tspan><tspan x="2726" dy="14.7">+ read_flows()</tspan><tspan x="2726" dy="14.7">+ budgetobject_da()</tspan><tspan x="2726" dy="14.7">+ bfr_init()</tspan><tspan x="2726" dy="14.7">+ bfr_advance()</tspan><tspan x="2726" dy="14.7">+ fill_from_bfr()</tspan></text></g>

<g id="flowmodelinterfacetype"><rect class="b" x="2059" y="2184" width="201" height="382.8"/><line class="s" x1="2059" y1="2223.4" x2="2260" y2="2223.4"/><line class="s" x1="2059" y1="2395.1" x2="2260" y2="2395.1"/>
<text class="c" x="2159.5" y="2200"><tspan x="2159.5">flowmodelinterfacemodule</tspan><tspan x="2159.5" dy="14.7">::flowmodelinterfacetype</tspan></text>
<text x="2069" y="2239.4"><tspan x="2069">- text</tspan><tspan x="2069" dy="14.7">- flows_from_file</tspan><tspan x="2069" dy="14.7">- iflowsupdated</tspan><tspan x="2069" dy="14.7">- ibound</tspan><tspan x="2069" dy="14.7">- gwfflowja</tspan><tspan x="2069" dy="14.7">- gwfspdis</tspan><tspan x="2069" dy="14.7">- gwfhead</tspan><tspan x="2069" dy="14.7">- gwfsat</tspan><tspan x="2069" dy="14.7">- ibdgwfsat0</tspan><tspan x="2069" dy="14.7">- idryinactive</tspan><tspan x="2069" dy="14.7">and 12 more...</tspan></text>
<text x="2069" y="2411.1"><tspan x="2069">- advance_bfr()</tspan><tspan x="2069" dy="14.7">- advance_hfr()</tspan><tspan x="2069" dy="14.7">- allocate_arrays()</tspan><tspan x="2069" dy="14.7">- allocate_gwfpackages()</tspan><tspan x="2069" dy="14.7">- allocate_scalars()</tspan><tspan x="2069" dy="14.7">- deallocate_gwfpackages()</tspan><tspan x="2069" dy="14.7">- finalize_bfr()</tspan><tspan x="2069" dy="14.7">- finalize_hfr()</tspan><tspan x="2069" dy="14.7">- fmi_ar()</tspan><tspan x="2069" dy="14.7">- fmi_da()</tspan><tspan x="2069" dy="14.7">and 8 more...</tspan></text></g>

<g id="characterstringtype"><rect class="b" x="458" y="2264" width="202" height="221.1"/><line class="s" x1="458" y1="2303.4" x2="660" y2="2303.4"/><line class="s" x1="458" y1="2328.1" x2="660" y2="2328.1"/>
<text class="c" x="559" y="2280"><tspan x="559">characterstringmodule</tspan><tspan x="559" dy="14.7">::characterstringtype</tspan></text>
<text x="468" y="2319.4">- charstring</text>
<text x="468" y="2344.1"><tspan x="468">- assign_to_charstring()</tspan><tspan x="468" dy="14.7">- assign_from_charstring()</tspan><tspan x="468" dy="14.7">- character_eq_charstring()</tspan><tspan x="468" dy="14.7">- charstring_eq_character()</tspan><tspan x="468" dy="14.7">- charstring_eq_charstring()</tspan><tspan x="468" dy="14.7">- write_unformatted()</tspan><tspan x="468" dy="14.7">- strlen()</tspan><tspan x="468" dy="14.7">- destroy()</tspan><tspan x="468" dy="14.7">- assignment()</tspan><tspan x="468" dy="14.7">- operator()</tspan></text></g>

<g id="packagemovertype"><rect class="b" x="684" y="2198" width="177" height="353.4"/><line class="s" x1="684" y1="2237.4" x2="861" y2="2237.4"/><line class="s" x1="684" y1="2379.7" x2="861" y2="2379.7"/>
<text class="c" x="772.5" y="2214"><tspan x="772.5">packagemovermodule</tspan><tspan x="772.5" dy="14.7">::packagemovertype</tspan></text>
<text x="694" y="2253.4"><tspan x="694">- memorypath</tspan><tspan x="694" dy="14.7">- nproviders</tspan><tspan x="694" dy="14.7">- nreceivers</tspan><tspan x="694" dy="14.7">- iprmap</tspan><tspan x="694" dy="14.7">- qtformvr</tspan><tspan x="694" dy="14.7">- qformvr</tspan><tspan x="694" dy="14.7">- qtomvr</tspan><tspan x="694" dy="14.7">- qfrommvr</tspan><tspan x="694" dy="14.7">- qfrommvr0</tspan></text>
<text x="694" y="2395.7"><tspan x="694">- ar()</tspan><tspan x="694" dy="14.7">- ad()</tspan><tspan x="694" dy="14.7">- reset()</tspan><tspan x="694" dy="14.7">- fc()</tspan><tspan x="694" dy="14.7">- da()</tspan><tspan x="694" dy="14.7">- allocate_scalars()</tspan><tspan x="694" dy="14.7">- allocate_arrays()</tspan><tspan x="694" dy="14.7">- get_qfrommvr()</tspan><tspan x="694" dy="14.7">- get_qfrommvr0()</tspan><tspan x="694" dy="14.7">- get_qtomvr()</tspan><tspan x="694" dy="14.7">- accumulate_qformvr()</tspan></text></g>

<g id="timearrayseriesmanagertype"><rect class="b" x="884" y="2234" width="232" height="279.9"/><line class="s" x1="884" y1="2273.4" x2="1116" y2="2273.4"/><line class="s" x1="884" y1="2356.9" x2="1116" y2="2356.9"/>
<text class="c" x="1000" y="2250"><tspan x="1000">timearrayseriesmanagermodule</tspan><tspan x="1000" dy="14.7">::timearrayseriesmanagertype</tspan></text>
<text x="894" y="2289.4"><tspan x="894">+ iout</tspan><tspan x="894" dy="14.7">- dis</tspan><tspan x="894" dy="14.7">- modelname</tspan><tspan x="894" dy="14.7">- tasfiles</tspan><tspan x="894" dy="14.7">- tasnames</tspan></text>
<text x="894" y="2372.9"><tspan x="894">+ tasmanager_df()</tspan><tspan x="894" dy="14.7">+ ad()</tspan><tspan x="894" dy="14.7">+ da()</tspan><tspan x="894" dy="14.7">+ add_tasfile()</tspan><tspan x="894" dy="14.7">+ countlinks()</tspan><tspan x="894" dy="14.7">+ getlink()</tspan><tspan x="894" dy="14.7">+ maketaslink()</tspan><tspan x="894" dy="14.7">+ reset()</tspan><tspan x="894" dy="14.7">- tasmgr_add_link()</tspan><tspan x="894" dy="14.7">- tasmgr_convert_flux()</tspan></text></g>

<g id="timeseriesmanagertype"><rect class="b" x="1359" y="2234" width="214" height="279.9"/><line class="s" x1="1359" y1="2273.4" x2="1573" y2="2273.4"/><line class="s" x1="1359" y1="2356.9" x2="1573" y2="2356.9"/>
<text class="c" x="1466" y="2250"><tspan x="1466">timeseriesmanagermodule</tspan><tspan x="1466" dy="14.7">::timeseriesmanagertype</tspan></text>
<text x="1369" y="2289.4"><tspan x="1369">+ iout</tspan><tspan x="1369" dy="14.7">- numtsfiles</tspan><tspan x="1369" dy="14.7">- tsfiles</tspan><tspan x="1369" dy="14.7">- removetslinksoncompletion</tspan><tspan x="1369" dy="14.7">- extendtstoendofsimulation</tspan></text>
<text x="1369" y="2372.9"><tspan x="1369">+ tsmanager_df()</tspan><tspan x="1369" dy="14.7">+ ad()</tspan><tspan x="1369" dy="14.7">+ da()</tspan><tspan x="1369" dy="14.7">+ add_tsfile()</tspan><tspan x="1369" dy="14.7">+ countlinks()</tspan><tspan x="1369" dy="14.7">+ getlink()</tspan><tspan x="1369" dy="14.7">+ reset()</tspan><tspan x="1369" dy="14.7">+ hashbndtimeseries()</tspan><tspan x="1369" dy="14.7">- get_time_series()</tspan><tspan x="1369" dy="14.7">- make_link()</tspan></text></g>

<g id="dataadvancedpackagetype"><rect class="b" x="2286" y="2330" width="297" height="88.8"/><line class="s" x1="2286" y1="2354.7" x2="2583" y2="2354.7"/><line class="s" x1="2286" y1="2394.1" x2="2583" y2="2394.1"/>
<text class="c" x="2434.5" y="2346">tspfmimodule::dataadvancedpackagetype</text>
<text x="2296" y="2370.7"><tspan x="2296">- concpack</tspan><tspan x="2296" dy="14.7">- qmfrommvr</tspan></text></g>

<g id="budobjptrarray"><rect class="b" x="2607" y="2337" width="218" height="74.1"/><line class="s" x1="2607" y1="2361.7" x2="2825" y2="2361.7"/><line class="s" x1="2607" y1="2386.4" x2="2825" y2="2386.4"/>
<text class="c" x="2716" y="2353">tspfmimodule::budobjptrarray</text></g>

<g id="bndtype"><rect class="b" x="1066" y="2646" width="196" height="471.1"/><line class="s" x1="1066" y1="2670.7" x2="1262" y2="2670.7"/><line class="s" x1="1066" y1="2842.4" x2="1262" y2="2842.4"/>
<text class="c" x="1164" y="2662">bndmodule::bndtype</text>
<text x="1076" y="2686.7"><tspan x="1076">- listlabel</tspan><tspan x="1076" dy="14.7">- text</tspan><tspan x="1076" dy="14.7">- auxname</tspan><tspan x="1076" dy="14.7">- boundname</tspan><tspan x="1076" dy="14.7">- isadvpak</tspan><tspan x="1076" dy="14.7">- ibcnum</tspan><tspan x="1076" dy="14.7">- maxbound</tspan><tspan x="1076" dy="14.7">- nbound</tspan><tspan x="1076" dy="14.7">- ncolbnd</tspan><tspan x="1076" dy="14.7">- iscloc</tspan><tspan x="1076" dy="14.7">and 26 more...</tspan></text>
<text x="1076" y="2858.4"><tspan x="1076">+ bnd_obs_supported()</tspan><tspan x="1076" dy="14.7">+ bnd_df_obs()</tspan><tspan x="1076" dy="14.7">+ bnd_bd_obs()</tspan><tspan x="1076" dy="14.7">+ bnd_ot_obs()</tspan><tspan x="1076" dy="14.7">+ bnd_rp_obs()</tspan><tspan x="1076" dy="14.7">+ bnd_rp_ts()</tspan><tspan x="1076" dy="14.7">+ bnd_activate_viscosity()</tspan><tspan x="1076" dy="14.7">- bnd_df()</tspan><tspan x="1076" dy="14.7">- bnd_ac()</tspan><tspan x="1076" dy="14.7">- bnd_mc()</tspan><tspan x="1076" dy="14.7">- bnd_ar()</tspan><tspan x="1076" dy="14.7">- bnd_rp()</tspan><tspan x="1076" dy="14.7">- bnd_ad()</tspan><tspan x="1076" dy="14.7">- bnd_ck()</tspan><tspan x="1076" dy="14.7">- bnd_reset()</tspan><tspan x="1076" dy="14.7">- bnd_cf()</tspan><tspan x="1076" dy="14.7">- bnd_fc()</tspan><tspan x="1076" dy="14.7">and 24 more...</tspan></text></g>

<g id="tspfmitype"><rect class="b" x="2253" y="2749" width="202" height="265.2"/><line class="s" x1="2253" y1="2773.7" x2="2455" y2="2773.7"/><line class="s" x1="2253" y1="2842.5" x2="2455" y2="2842.5"/>
<text class="c" x="2354" y="2765">tspfmimodule::tspfmitype</text>
<text x="2263" y="2789.7"><tspan x="2263">- iatp</tspan><tspan x="2263" dy="14.7">- iflowerr</tspan><tspan x="2263" dy="14.7">- flowcorrect</tspan><tspan x="2263" dy="14.7">- eqnsclfac</tspan></text>
<text x="2263" y="2858.5"><tspan x="2263">- allocate_arrays()</tspan><tspan x="2263" dy="14.7">- allocate_gwfpackages()</tspan><tspan x="2263" dy="14.7">- allocate_scalars()</tspan><tspan x="2263" dy="14.7">- deallocate_gwfpackages()</tspan><tspan x="2263" dy="14.7">- fmi_rp()</tspan><tspan x="2263" dy="14.7">- fmi_ad()</tspan><tspan x="2263" dy="14.7">- fmi_fc()</tspan><tspan x="2263" dy="14.7">- fmi_cq()</tspan><tspan x="2263" dy="14.7">- fmi_bd()</tspan><tspan x="2263" dy="14.7">- fmi_ot_flow()</tspan><tspan x="2263" dy="14.7">and 8 more...</tspan></text></g>

<g id="tspapttype"><rect class="b" x="1885" y="3181" width="191" height="412.2"/><line class="s" x1="1885" y1="3205.7" x2="2076" y2="3205.7"/><line class="s" x1="1885" y1="3377.4" x2="2076" y2="3377.4"/>
<text class="c" x="1980.5" y="3197">tspaptmodule::tspapttype</text>
<text x="1895" y="3221.7"><tspan x="1895">+ flowpackagename</tspan><tspan x="1895" dy="14.7">+ status</tspan><tspan x="1895" dy="14.7">+ cauxfpconc</tspan><tspan x="1895" dy="14.7">+ iauxfpconc</tspan><tspan x="1895" dy="14.7">+ imatrows</tspan><tspan x="1895" dy="14.7">+ iprconc</tspan><tspan x="1895" dy="14.7">+ iconcout</tspan><tspan x="1895" dy="14.7">+ ibudgetout</tspan><tspan x="1895" dy="14.7">+ ibudcsv</tspan><tspan x="1895" dy="14.7">+ ncv</tspan><tspan x="1895" dy="14.7">and 35 more...</tspan></text>
<text x="1895" y="3393.4"><tspan x="1895">+ set_pointers()</tspan><tspan x="1895" dy="14.7">+ bnd_ac()</tspan><tspan x="1895" dy="14.7">+ bnd_mc()</tspan><tspan x="1895" dy="14.7">+ bnd_ar()</tspan><tspan x="1895" dy="14.7">+ bnd_rp()</tspan><tspan x="1895" dy="14.7">+ bnd_ad()</tspan><tspan x="1895" dy="14.7">+ bnd_reset()</tspan><tspan x="1895" dy="14.7">+ bnd_fc()</tspan><tspan x="1895" dy="14.7">+ apt_fc_expanded()</tspan><tspan x="1895" dy="14.7">+ apt_ad_chk()</tspan><tspan x="1895" dy="14.7">and 43 more...</tspan><tspan x="1895" dy="14.7">- apt_fc_nonexpanded()</tspan><tspan x="1895" dy="14.7">- apt_copy2flowp()</tspan><tspan x="1895" dy="14.7">- apt_setup_tableobj()</tspan></text></g>

<g id="gweinputdatatype"><rect class="b" x="2101" y="3277" width="173" height="221.1"/><line class="s" x1="2101" y1="3316.4" x2="2274" y2="3316.4"/><line class="s" x1="2101" y1="3429.3" x2="2274" y2="3429.3"/>
<text class="c" x="2187.5" y="3293"><tspan x="2187.5">gweinputdatamodule</tspan><tspan x="2187.5" dy="14.7">::gweinputdatatype</tspan></text>
<text x="2111" y="3332.4"><tspan x="2111">- nnodes</tspan><tspan x="2111" dy="14.7">- memorypath</tspan><tspan x="2111" dy="14.7">- gwerhow</tspan><tspan x="2111" dy="14.7">- gwecpw</tspan><tspan x="2111" dy="14.7">- gwelatheatvap</tspan><tspan x="2111" dy="14.7">- gwerhos</tspan><tspan x="2111" dy="14.7">- gwecps</tspan></text>
<text x="2111" y="3445.3"><tspan x="2111">+ set_gwe_dat_ptrs()</tspan><tspan x="2111" dy="14.7">+ gweshared_dat_da()</tspan><tspan x="2111" dy="14.7">- set_gwe_scalar_ptrs()</tspan><tspan x="2111" dy="14.7">- set_gwe_array_ptrs()</tspan></text></g>

<g id="gwesfetype"><rect class="g" x="2034" y="3659" width="202" height="382.8"/><line class="s" x1="2034" y1="3683.7" x2="2236" y2="3683.7"/><line class="s" x1="2034" y1="3870.1" x2="2236" y2="3870.1"/>
<text class="c" x="2135" y="3675">gwesfemodule::gwesfetype</text>
<text x="2044" y="3699.7"><tspan x="2044">- idxbudrain</tspan><tspan x="2044" dy="14.7">- idxbudevap</tspan><tspan x="2044" dy="14.7">- idxbudroff</tspan><tspan x="2044" dy="14.7">- idxbudiflw</tspan><tspan x="2044" dy="14.7">- idxbudoutf</tspan><tspan x="2044" dy="14.7">- idxbudsbcd</tspan><tspan x="2044" dy="14.7">- temprain</tspan><tspan x="2044" dy="14.7">- tempevap</tspan><tspan x="2044" dy="14.7">- temproff</tspan><tspan x="2044" dy="14.7">- tempiflw</tspan><tspan x="2044" dy="14.7">- ktf</tspan><tspan x="2044" dy="14.7">- rfeatthk</tspan></text>
<text x="2044" y="3886.1"><tspan x="2044">- bnd_da()</tspan><tspan x="2044" dy="14.7">- allocate_scalars()</tspan><tspan x="2044" dy="14.7">- apt_allocate_arrays()</tspan><tspan x="2044" dy="14.7">- find_apt_package()</tspan><tspan x="2044" dy="14.7">- pak_fc_expanded()</tspan><tspan x="2044" dy="14.7">- pak_solve()</tspan><tspan x="2044" dy="14.7">- pak_get_nbudterms()</tspan><tspan x="2044" dy="14.7">- pak_setup_budobj()</tspan><tspan x="2044" dy="14.7">- pak_fill_budobj()</tspan><tspan x="2044" dy="14.7">- sfe_rain_term()</tspan><tspan x="2044" dy="14.7">and 9 more...</tspan></text></g>
</svg>
